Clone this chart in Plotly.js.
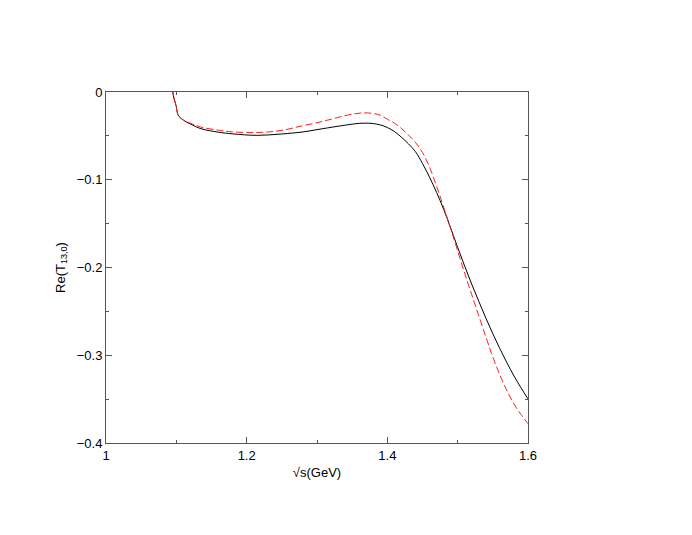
<!DOCTYPE html>
<html>
<head>
<meta charset="utf-8">
<script src="https://cdn.plot.ly/plotly-3.0.1.min.js"></script>
<style>html,body{margin:0;padding:0;background:#fff;}#chart{width:692px;height:535px;}</style>
</head>
<body>
<div id="chart"></div>
<script>
// sqrt(s) in GeV
const blackX = [1.0945, 1.0957, 1.0995, 1.1028, 1.11, 1.12, 1.135, 1.16, 1.18, 1.215, 1.25, 1.28, 1.30, 1.33, 1.35, 1.36, 1.37, 1.38, 1.39, 1.40, 1.41, 1.42, 1.43, 1.44, 1.45, 1.46, 1.47, 1.48, 1.49, 1.50, 1.51, 1.52, 1.53, 1.54, 1.55, 1.56, 1.57, 1.58, 1.59, 1.60];
const blackY = [0.005, -0.004, -0.015, -0.0266, -0.032, -0.0365, -0.0418, -0.0458, -0.0477, -0.0494, -0.0478, -0.0455, -0.0429, -0.039, -0.0367, -0.0357, -0.0355, -0.036, -0.0375, -0.0405, -0.045, -0.0515, -0.059, -0.068, -0.0815, -0.097, -0.1145, -0.1335, -0.155, -0.177, -0.1985, -0.219, -0.2385, -0.2575, -0.2755, -0.2925, -0.3085, -0.3235, -0.337, -0.3497];

const redX = [1.0945, 1.0957, 1.0995, 1.1028, 1.11, 1.12, 1.135, 1.16, 1.18, 1.21, 1.23, 1.255, 1.276, 1.30, 1.323, 1.345, 1.366, 1.38, 1.39, 1.40, 1.41, 1.42, 1.43, 1.44, 1.45, 1.46, 1.47, 1.48, 1.49, 1.50, 1.51, 1.52, 1.53, 1.54, 1.55, 1.56, 1.57, 1.58, 1.59, 1.60];
const redY = [0.005, -0.004, -0.015, -0.0266, -0.032, -0.0355, -0.040, -0.0435, -0.0455, -0.0462, -0.0456, -0.043, -0.0391, -0.035, -0.0304, -0.026, -0.0238, -0.0245, -0.0265, -0.031, -0.0355, -0.0415, -0.049, -0.0575, -0.069, -0.0855, -0.1075, -0.131, -0.1555, -0.181, -0.2065, -0.231, -0.255, -0.279, -0.302, -0.3225, -0.3405, -0.3555, -0.3675, -0.378];

const xRange = [1, 1.6];
const yRange = [-0.4, 0];
const xTitle = '√s(GeV)';
const yTitle = 'Re(T<sub>13,0</sub>)';

const traces = [
  {x: blackX, y: blackY, mode: 'lines', line: {color: '#000000', width: 1, shape: 'spline', smoothing: 1}, showlegend: false, hoverinfo: 'skip'},
  {x: redX, y: redY, mode: 'lines', line: {color: '#ff2020', width: 1, dash: '7px,3px', shape: 'spline', smoothing: 1}, showlegend: false, hoverinfo: 'skip'},
  {x: [blackX[0]], y: [blackY[0]], xaxis: 'x2', yaxis: 'y2', mode: 'markers', marker: {size: 1, opacity: 0}, showlegend: false, hoverinfo: 'skip'}
];

const font = {family: 'Liberation Sans, Arial, sans-serif', size: 13, color: '#000'};
const axisCommon = {
  showgrid: false, zeroline: false, showline: true, linecolor: '#555555', linewidth: 1,
  mirror: true, ticks: 'inside', ticklen: 6, tickcolor: '#555555', tickwidth: 1,
  tickfont: font, automargin: false
};

const layout = {
  width: 692, height: 535,
  margin: {l: 106, r: 164, t: 92, b: 92},
  paper_bgcolor: '#ffffff', plot_bgcolor: '#ffffff',
  xaxis: Object.assign({}, axisCommon, {
    range: xRange, tick0: 1, dtick: 0.2,
    minor: {dtick: 0.1, ticks: 'inside', ticklen: 3, tickcolor: '#555555', showgrid: false},
    title: {text: xTitle, font: font, standoff: 6}
  }),
  yaxis: Object.assign({}, axisCommon, {
    range: yRange, tick0: 0, dtick: 0.1,
    minor: {dtick: 0.05, ticks: 'inside', ticklen: 3, tickcolor: '#555555', showgrid: false},
    title: {text: yTitle, font: font, standoff: 8}
  }),
  xaxis2: {
    overlaying: 'x', side: 'top', anchor: 'y2', range: xRange, tick0: 1, dtick: 0.2,
    showgrid: false, zeroline: false, showline: false, showticklabels: false,
    ticks: 'inside', ticklen: 6, tickcolor: '#555555', tickwidth: 1, automargin: false,
    minor: {dtick: 0.1, ticks: 'inside', ticklen: 3, tickcolor: '#555555', showgrid: false}
  },
  yaxis2: {
    overlaying: 'y', side: 'right', anchor: 'x2', range: yRange, tick0: 0, dtick: 0.1,
    showgrid: false, zeroline: false, showline: false, showticklabels: false,
    ticks: 'inside', ticklen: 6, tickcolor: '#555555', tickwidth: 1, automargin: false,
    minor: {dtick: 0.05, ticks: 'inside', ticklen: 3, tickcolor: '#555555', showgrid: false}
  }
};

Plotly.newPlot('chart', traces, layout, {staticPlot: true, displayModeBar: false});
</script>
</body>
</html>
